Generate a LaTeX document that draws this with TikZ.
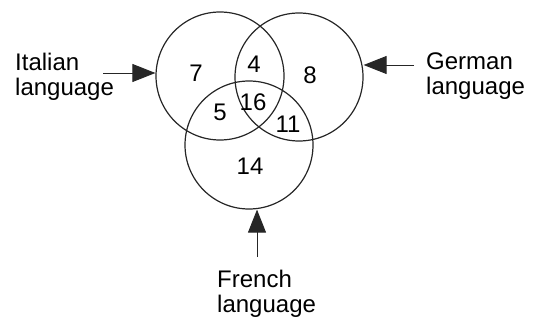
\documentclass[tikz,border=0pt]{standalone}
\usepackage{fontspec}
\setmainfont{Liberation Sans}
\usetikzlibrary{arrows.meta}
\begin{document}
\begin{tikzpicture}[x=1pt,y=-1pt,
  set/.style={draw=black!85, circle, minimum size=128pt, inner sep=0pt, line width=1.2pt},
  num/.style={font=\fontsize{24}{24}\selectfont, inner sep=0pt},
  lab/.style={font=\fontsize{24}{25}\selectfont, align=left, inner sep=0pt, anchor=west},
  pointer/.style={line width=0.9pt, draw=black!85, -{Triangle[length=23pt,width=18pt]}}]
\useasboundingbox (0,0) rectangle (534,320);
\node[set] (I) at (220,76) {};
\node[set] (G) at (299,77) {};
\node[set] (F) at (249,145) {};
\node[num] (n7) at (196,73) {7};
\node[num] (n4) at (254,64) {4};
\node[num] (n8) at (310,75) {8};
\node[num] (n5) at (220,112) {5};
\node[num] (n16) at (253,102) {16};
\node[num] (n11) at (288,124) {11};
\node[num] (n14) at (250,166) {14};
\node[lab] (it) at (15,77) {Italian\\language};
\node[lab] (ge) at (426,76) {German\\language};
\node[lab] (fr) at (217,294) {French\\language};
\coordinate (ia) at (103,73);
\coordinate (ga) at (414,65);
\coordinate (fa) at (257,257);
\draw[pointer] (ia) -- (ia -| I.west);
\draw[pointer] (ga) -- (ga -| G.east);
\draw[pointer] (fa) -- (fa |- F.south);
\end{tikzpicture}
\end{document}
